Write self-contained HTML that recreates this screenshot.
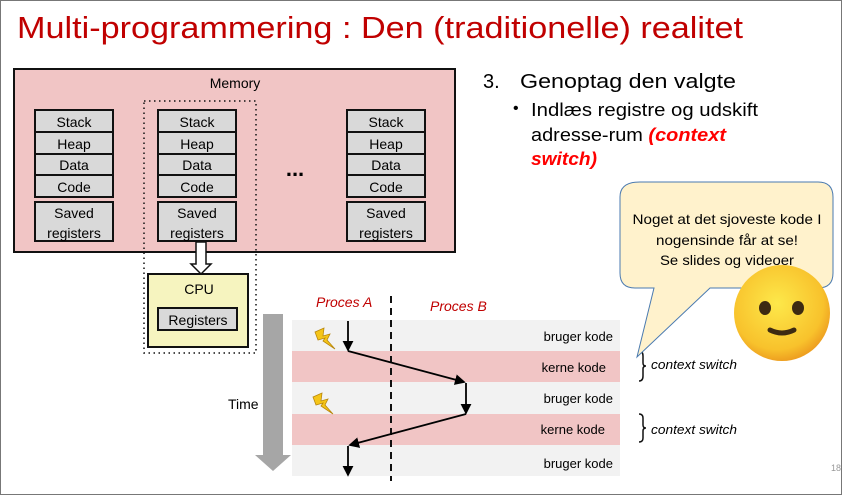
<!DOCTYPE html>
<html><head><meta charset="utf-8"><style>
html,body{margin:0;padding:0;background:#fff;}
svg{display:block;font-family:"Liberation Sans",sans-serif;}
</style></head><body>
<svg width="842" height="495" viewBox="0 0 842 495" xmlns="http://www.w3.org/2000/svg">
<defs>
<radialGradient id="sm" cx="0.45" cy="0.4" r="0.6"><stop offset="0" stop-color="#fde84a"/><stop offset="0.8" stop-color="#f8c22c"/><stop offset="1" stop-color="#eea020"/></radialGradient>
<marker id="ah" markerWidth="6" markerHeight="6" refX="5" refY="3" orient="auto"><path d="M0,0 L6,3 L0,6 z" fill="#000"/></marker>
</defs>
<rect x="0.5" y="0.5" width="841" height="494" fill="#fff" stroke="#777"/>
<text x="17" y="38" font-size="31" fill="#c00000" textLength="726" lengthAdjust="spacingAndGlyphs">Multi-programmering : Den (traditionelle) realitet</text>

<!-- Memory -->
<rect x="14" y="69" width="441" height="183" fill="#f1c5c5" stroke="#111" stroke-width="2"/>
<text x="235" y="88" font-size="14" text-anchor="middle">Memory</text>
<rect x="144" y="101" width="112" height="252" fill="none" stroke="#111" stroke-width="1.5" stroke-dasharray="1.5,3.5"/>
<g font-size="14" text-anchor="middle" stroke-width="2">
<g id="col">
<rect x="35" y="110" width="78" height="22" fill="#d9d9d9" stroke="#111"/>
<rect x="35" y="132" width="78" height="22" fill="#d9d9d9" stroke="#111"/>
<rect x="35" y="154" width="78" height="21" fill="#d9d9d9" stroke="#111"/>
<rect x="35" y="175" width="78" height="22" fill="#d9d9d9" stroke="#111"/>
<rect x="35" y="202" width="78" height="39" fill="#d9d9d9" stroke="#111"/>
<text x="74" y="127">Stack</text><text x="74" y="149">Heap</text><text x="74" y="170">Data</text><text x="74" y="192">Code</text>
<text x="74" y="218">Saved</text><text x="74" y="238">registers</text>
</g>
<use href="#col" x="123"/>
<use href="#col" x="312"/>
</g>
<text x="295" y="176" font-size="22" text-anchor="middle" font-weight="bold">...</text>
<path d="M196,242 L206,242 L206,264 L211,264 L201,274 L191,264 L196,264 Z" fill="#fff" stroke="#111" stroke-width="1.5"/>
<rect x="148" y="274" width="100" height="73" fill="#f6f4bf" stroke="#111" stroke-width="2"/>
<text x="199" y="294" font-size="14" text-anchor="middle">CPU</text>
<rect x="158" y="308" width="79" height="22" fill="#d9d9d9" stroke="#111" stroke-width="2"/>
<text x="198" y="325" font-size="14" text-anchor="middle">Registers</text>

<!-- right text -->
<text x="483" y="88" font-size="20">3.</text>
<text x="520" y="88" font-size="20" textLength="216" lengthAdjust="spacingAndGlyphs">Genoptag den valgte</text>
<text x="513" y="113" font-size="16">•</text>
<text x="531" y="116" font-size="18" textLength="227" lengthAdjust="spacingAndGlyphs">Indlæs registre og udskift</text>
<text x="531" y="141" font-size="18" textLength="195" lengthAdjust="spacingAndGlyphs">adresse-rum <tspan fill="#ff0000" font-weight="bold" font-style="italic">(context</tspan></text>
<text x="531" y="165" font-size="18" fill="#ff0000" font-weight="bold" font-style="italic" textLength="66" lengthAdjust="spacingAndGlyphs">switch)</text>

<!-- timeline -->
<rect x="292" y="320" width="328" height="31" fill="#f2f2f2"/>
<rect x="292" y="351" width="328" height="31" fill="#f1c5c5"/>
<rect x="292" y="382" width="328" height="32" fill="#f2f2f2"/>
<rect x="292" y="414" width="328" height="31" fill="#f1c5c5"/>
<rect x="292" y="445" width="328" height="31" fill="#f2f2f2"/>
<g font-size="13" text-anchor="end">
<text x="613" y="341">bruger kode</text><text x="606" y="372">kerne kode</text>
<text x="613" y="403">bruger kode</text><text x="605" y="434">kerne kode</text>
<text x="613" y="468">bruger kode</text>
</g>
<path d="M263,314 L283,314 L283,455 L291,455 L273,471 L255,455 L263,455 Z" fill="#a6a6a6"/>
<text x="228" y="409" font-size="14">Time</text>
<line x1="391" y1="296" x2="391" y2="481" stroke="#111" stroke-width="2" stroke-dasharray="7,5"/>
<text x="316" y="307" font-size="14" fill="#c00000" font-style="italic">Proces A</text>
<text x="430" y="311" font-size="14" fill="#c00000" font-style="italic">Proces B</text>
<g stroke="#000" stroke-width="1.8" fill="none">
<path d="M348,321 L348,350" marker-end="url(#ah)"/>
<path d="M348,351 L464,382" marker-end="url(#ah)"/>
<path d="M466,383 L466,413" marker-end="url(#ah)"/>
<path d="M466,414 L350,445" marker-end="url(#ah)"/>
<path d="M348,446 L348,475" marker-end="url(#ah)"/>
</g>
<g fill="#f5c518" stroke="#b8860b" stroke-width="0.8">
<path d="M315,332 L324,328 L323,336 L330,334 L327,340 L335,349 L323,341 L325,338 L318,340 Z"/>
<path d="M313,397 L322,393 L321,401 L328,399 L325,405 L333,414 L321,406 L323,403 L316,405 Z"/>
</g>
<g stroke="#111" stroke-width="1.5" fill="none">
<path d="M639,351 q4,0 4,5 l0,7 q0,3 3,3 q-3,0 -3,3 l0,7 q0,5 -4,5"/>
<path d="M639,414 q4,0 4,4 l0,7 q0,3 3,3 q-3,0 -3,3 l0,7 q0,4 -4,4"/>
</g>
<text x="651" y="369" font-size="13" font-style="italic" textLength="86" lengthAdjust="spacingAndGlyphs">context switch</text>
<text x="651" y="434" font-size="13" font-style="italic" textLength="86" lengthAdjust="spacingAndGlyphs">context switch</text>

<!-- bubble -->
<path d="M640,182 L818,182 Q833,182 833,197 L833,273 Q833,288 818,288 L710,288 L637,357 L654,288 L635,288 Q620,288 620,273 L620,197 Q620,182 640,182 Z" fill="#fff2cc" stroke="#4a7ab0" stroke-width="1"/>
<g font-size="14" text-anchor="middle">
<text x="727" y="224" textLength="189" lengthAdjust="spacingAndGlyphs">Noget at det sjoveste kode I</text>
<text x="727" y="245" textLength="142" lengthAdjust="spacingAndGlyphs">nogensinde får at se!</text>
<text x="727" y="265" textLength="134" lengthAdjust="spacingAndGlyphs">Se slides og videoer</text>
</g>
<circle cx="782" cy="313" r="48" fill="url(#sm)"/>
<ellipse cx="765" cy="308" rx="6" ry="7" fill="#3d2a12"/>
<ellipse cx="798" cy="308" rx="6" ry="7" fill="#3d2a12"/>
<path d="M770,330 Q782,336 794,330" fill="none" stroke="#3d2a12" stroke-width="5" stroke-linecap="round"/>
<text x="831" y="471" font-size="9" fill="#999">18</text>
</svg>
</body></html>
